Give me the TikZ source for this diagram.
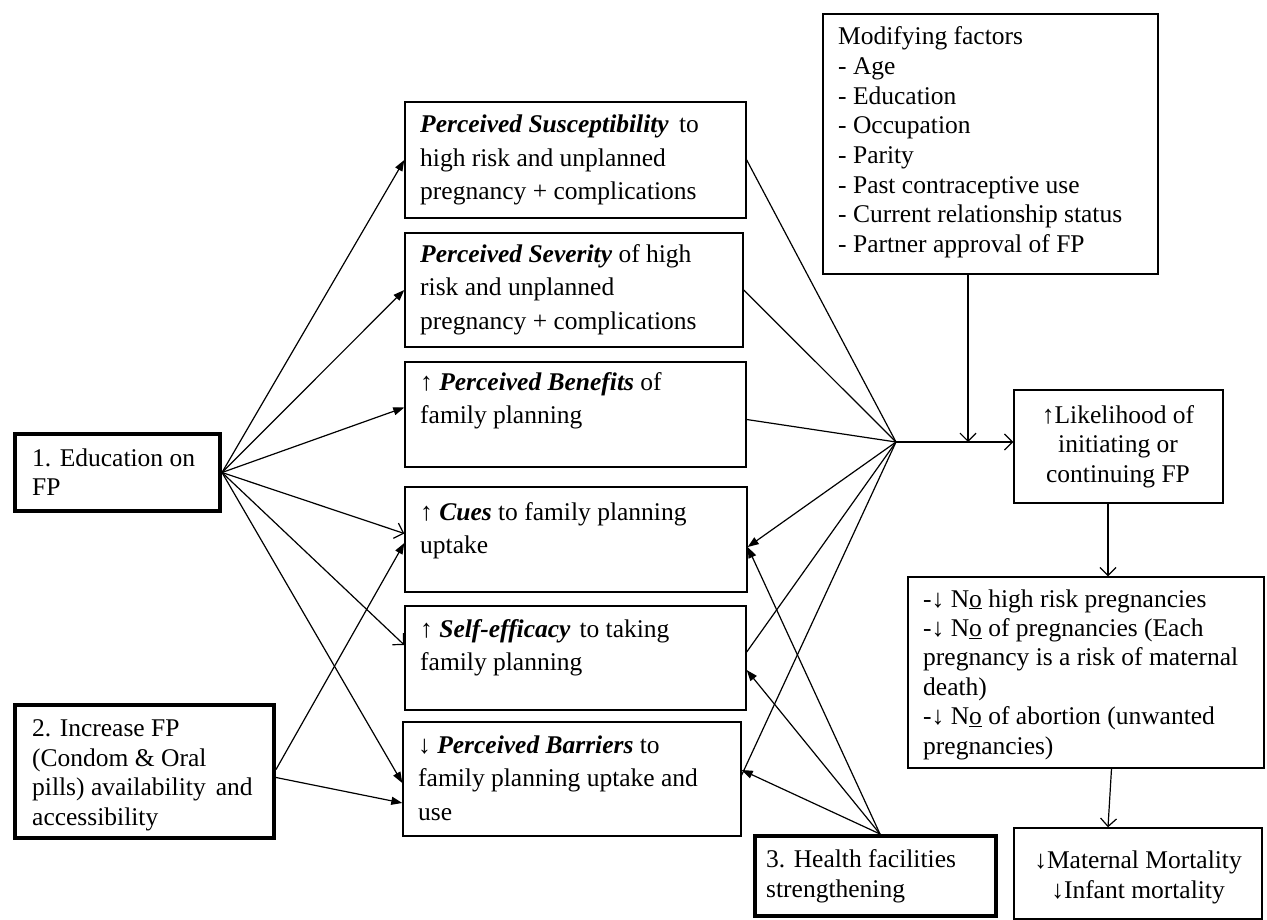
\documentclass[tikz,border=0pt]{standalone}
\usepackage{fontspec}
\setmainfont{Liberation Serif}
\usetikzlibrary{arrows.meta,fit,calc}
\newcommand\myfsA{\fontsize{25.5}{33.5}\selectfont}
\newcommand\myfsB{\fontsize{25.5}{29.4}\selectfont}
\newcommand\myfsC{\fontsize{25.5}{29.7}\selectfont}
\newcommand\bi[1]{\textbf{\textit{#1}}}
\begin{document}
\begin{tikzpicture}[x=1pt,y=-1pt,
  box/.style={draw, line width=1.4pt, inner sep=0pt},
  thickbox/.style={draw, line width=4pt, inner sep=0pt},
  txtA/.style={inner sep=0pt, align=left, font=\myfsA},
  txtB/.style={inner sep=0pt, align=left, font=\myfsB},
  txtM/.style={inner sep=0pt, align=left, font=\myfsC},
  txtC/.style={inner sep=0pt, align=center, font=\myfsB},
  ln/.style={line width=1.2pt},
  arr/.style={line width=1.2pt, -{Triangle[length=11pt,width=8pt]}},
  oarr/.style={line width=1.2pt, -{Straight Barb[length=8pt,width=16pt]}}]
\useasboundingbox (0,0) rectangle (1267,920);

% boxes
\node[thickbox, fit={(15,434) (220,511)}] (edu) {};
\node[thickbox, fit={(15,705) (274,838)}] (inc) {};
\node[thickbox, fit={(755,836) (996,916)}] (hea) {};
\node[box, fit={(405,102) (746,218)}] (sus) {};
\node[box, fit={(405,233) (743,347)}] (sev) {};
\node[box, fit={(405,362) (746,467)}] (ben) {};
\node[box, fit={(405,487) (747,592)}] (cue) {};
\node[box, fit={(405,606) (746,710)}] (sef) {};
\node[box, fit={(403,722) (741,836)}] (bar) {};
\node[box, fit={(823,14) (1158,274)}] (mod) {};
\node[box, fit={(1014,390) (1223,503)}] (lik) {};
\node[box, fit={(908,577) (1264,768)}] (out) {};
\node[box, fit={(1014,828) (1262,919)}] (mor) {};

% texts (base anchor = baseline of the last line)
\node[txtB, anchor=base west] (edut) at (32,495.5) {1. Education on\\FP};
\node[txtB, anchor=base west] (inct) at (32,825) {2. Increase FP\\(Condom \& Oral\\pills) availability\hspace{0.15em} and\\accessibility};
\node[txtB, anchor=base west] (heat) at (766,897) {3. Health facilities\\strengthening};
\node[txtA, anchor=base west] (sust) at (420,200) {\bi{Perceived Susceptibility}\hspace{0.15em} to\\high risk and unplanned\\pregnancy + complications};
\node[txtA, anchor=base west] (sevt) at (420,329) {\bi{Perceived Severity} of high\\risk and unplanned\\pregnancy + complications};
\node[txtA, anchor=base west] (bent) at (420,423.5) {↑ \bi{Perceived Benefits} of\\family planning};
\node[txtA, anchor=base west] (cuet) at (420,553.5) {↑ \bi{Cues} to family planning\\uptake};
\node[txtA, anchor=base west] (seft) at (420,670.5) {↑ \bi{Self-efficacy}\hspace{0.1em} to taking\\family planning};
\node[txtA, anchor=base west] (bart) at (418,820) {↓ \bi{Perceived Barriers} to\\family planning uptake and\\use};
\node[txtM, anchor=base west] (modt) at (838,252.5) {Modifying factors\\- Age\\- Education\\- Occupation\\- Parity\\- Past contraceptive use\\- Current relationship status\\- Partner approval of FP};
\node[txtC, anchor=base] (likt) at (1118,482) {↑Likelihood of\\initiating or\\continuing FP};
\node[txtB, anchor=base west] (outt) at (923,754) {-↓ N\underline{o} high risk pregnancies\\-↓ N\underline{o} of pregnancies (Each\\pregnancy is a risk of maternal\\death)\\-↓ N\underline{o} of abortion (unwanted\\pregnancies)};
\node[txtC, anchor=base] (mort) at (1138,898) {↓Maternal Mortality\\↓Infant mortality};

% hub and helper coordinates
\coordinate (hub) at (896,442);
\coordinate (join) at (968,442);
\coordinate (hs) at ([xshift=4.5pt]hea.north);

% education arrows
\draw[arr] (edu.east) -- (sus.west);
\draw[arr] (edu.east) -- (sev.west);
\draw[arr] (edu.east) -- ([yshift=7pt]ben.west);
\draw[oarr] (edu.east) -- ([yshift=6pt]cue.west);
\draw[oarr] (edu.east) -- ([yshift=13pt]sef.west);
\draw[arr] (edu.east) -- ([yshift=-4pt]bar.west);

% increase FP arrows
\draw[arr] ([yshift=2pt]inc.east) -- ([yshift=-3.5pt]cue.west);
\draw[arr] ([yshift=-6pt]inc.east) -- ([yshift=-24pt]bar.west);

% constructs to hub
\draw[ln] (sus.east) -- (hub);
\draw[ln] (sev.east) -- (hub);
\draw[ln] ([yshift=-5pt]ben.east) -- (hub);
\draw[arr] (hub) -- ([yshift=-7.5pt]cue.east);
\draw[ln] (hub) -- ([yshift=6pt]sef.east);
\draw[ln] (hub) -- ([yshift=4pt]bar.east);
\draw[oarr] (hub) -- ([yshift=4.5pt]lik.west);
\draw[oarr] ([xshift=-22.5pt]mod.south) -- (join);

% health facilities arrows
\draw[arr] (hs) -- ([yshift=-7.5pt]cue.east);
\draw[arr] (hs) -- ([yshift=-12pt]sef.east);
\draw[arr] (hs) -- ([yshift=9pt]bar.east);

% outcome chain
\draw[oarr] ([xshift=-10.5pt]lik.south) -- ([xshift=-10.5pt]lik.south |- out.north);
\draw[oarr] ([xshift=25.5pt]out.south) -- ([xshift=-30pt]mor.north);
\end{tikzpicture}
\end{document}
